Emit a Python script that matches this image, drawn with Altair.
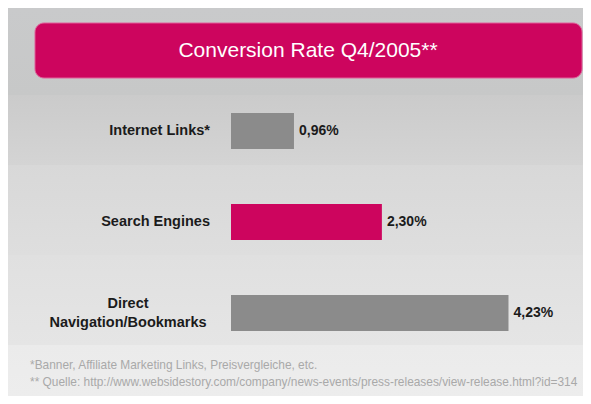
import altair as alt
import pandas as pd

# ---- data -------------------------------------------------------------
categories = ["Internet Links*", "Search Engines", "Direct\nNavigation/Bookmarks"]
values = [0.96, 2.30, 4.23]
value_labels = ["0,96%", "2,30%", "4,23%"]
kinds = ["base", "focus", "base"]
title_text = "Conversion Rate Q4/2005**"
footnotes = [
    "*Banner, Affiliate Marketing Links, Preisvergleiche, etc.",
    "** Quelle: http://www.websidestory.com/company/news-events/press-releases/view-release.html?id=314",
]

df = pd.DataFrame({"category": categories, "value": values,
                   "label": value_labels, "kind": kinds})
one = pd.DataFrame({"k": [0]})

W, H = 575, 388
MAGENTA = "#cd055e"
GREY = "#8b8b8b"
INK = "#1b1b1b"


def grad(c0, c1):
    return alt.LinearGradient(
        gradient="linear", x1=0, x2=0, y1=0, y2=1,
        stops=[alt.GradientStop(color=c0, offset=0),
               alt.GradientStop(color=c1, offset=1)])


def band(y0, y1, c0, c1):
    return alt.Chart(one).mark_rect(color=grad(c0, c1)).encode(
        x=alt.value(0), x2=alt.value(W), y=alt.value(y0), y2=alt.value(y1))


bg = [
    band(0, 87, "#c9cacb", "#c7c8c8"),
    band(87, 157, "#cbcbcb", "#d4d4d4"),
    band(157, 247, "#d8d8d8", "#dedede"),
    band(247, 337, "#e0e0e0", "#e5e5e5"),
    band(337, H, "#ebebeb", "#ededed"),
]

title_box = alt.Chart(one).mark_rect(color=MAGENTA, cornerRadius=9,
                                     stroke="#e0609a", strokeWidth=1).encode(
    x=alt.value(27), x2=alt.value(574), y=alt.value(15), y2=alt.value(70))
title = alt.Chart(one).mark_text(
    text=title_text, color="white", font="Liberation Sans", fontSize=21,
    align="center", baseline="middle").encode(x=alt.value(300), y=alt.value(43))

ysc = alt.Scale(range=[105, 323], paddingInner=0.604, paddingOuter=0)
xsc = alt.Scale(domain=[0, 5], range=[223, 551])
Y = alt.Y("category:N", sort=categories, scale=ysc, axis=None)
X = alt.X("value:Q", scale=xsc, axis=None)

base = alt.Chart(df)
bars = base.mark_bar().encode(
    x=X, y=Y,
    color=alt.Color("kind:N", scale=alt.Scale(domain=["base", "focus"],
                                              range=[GREY, MAGENTA]), legend=None))
vals = base.mark_text(align="left", baseline="middle", dx=5, font="Liberation Sans",
                      fontWeight="bold", fontSize=14, color=INK).encode(
    x=X, y=Y, text="label:N")
cat1 = base.transform_filter(alt.datum.category != categories[2]).mark_text(
    align="right", baseline="middle", font="Liberation Sans", fontWeight="bold",
    fontSize=14.5, color=INK).encode(x=alt.value(202), y=Y, text="category:N")
cat2 = base.transform_filter(alt.datum.category == categories[2]).mark_text(
    align="center", baseline="middle", font="Liberation Sans", fontWeight="bold",
    fontSize=14.5, color=INK, lineBreak="\n", lineHeight=19, dy=-9).encode(
    x=alt.value(120), y=Y, text="category:N")

fn1 = alt.Chart(one).mark_text(text=footnotes[0], align="left", baseline="middle",
                               font="Liberation Sans", fontSize=11.9, color="#a9a9a9").encode(
    x=alt.value(22), y=alt.value(357))
fn2 = alt.Chart(one).mark_text(text=footnotes[1], align="left", baseline="middle",
                               font="Liberation Sans", fontSize=11.9, color="#a9a9a9").encode(
    x=alt.value(22), y=alt.value(374))

chart = alt.layer(*bg, title_box, title, bars, vals, cat1, cat2, fn1, fn2).properties(
    width=W, height=H, autosize=alt.AutoSizeParams(type="none"), padding=0,
    background="white",
).configure_view(stroke=None)

chart.save("out.html", embed_options={"renderer": "svg", "actions": False})
